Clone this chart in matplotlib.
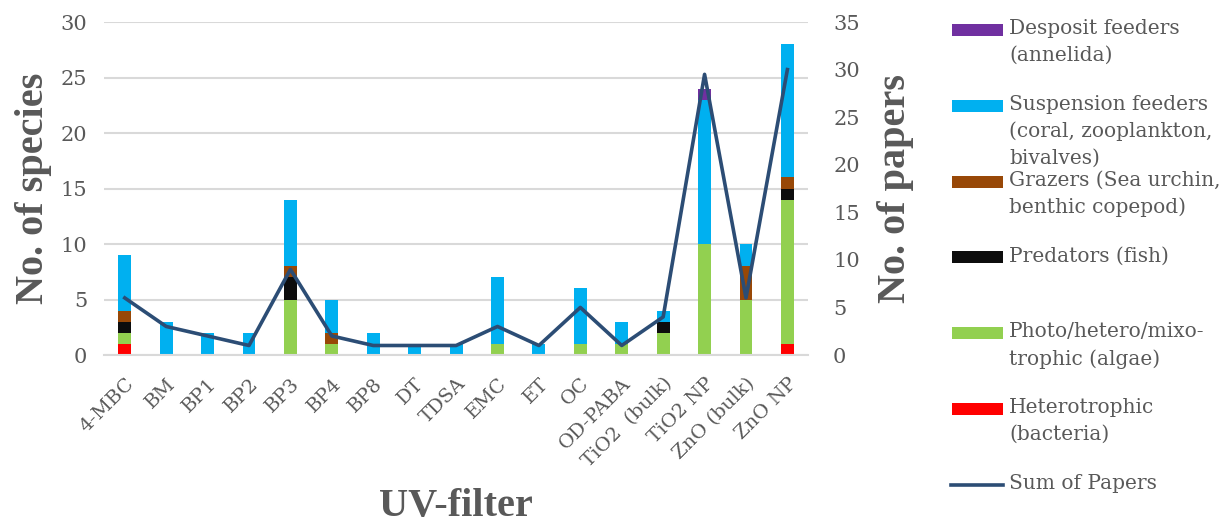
import numpy as np
import matplotlib
import matplotlib.pyplot as plt
from matplotlib.patches import Rectangle
from matplotlib.lines import Line2D

matplotlib.use('agg')

### data
filters = ['4-MBC', 'BM', 'BP1', 'BP2', 'BP3', 'BP4', 'BP8', 'DT', 'TDSA', 'EMC',
           'ET', 'OC', 'OD-PABA', 'TiO2  (bulk)', 'TiO2 NP', 'ZnO (bulk)', 'ZnO NP']
heterotrophic = [1, 0, 0, 0, 0, 0, 0, 0, 0, 0, 0, 0, 0, 0, 0, 0, 1]
photo = [1, 0, 0, 0, 5, 1, 0, 0, 0, 1, 0, 1, 1, 2, 10, 5, 13]
predators = [1, 0, 0, 0, 2, 0, 0, 0, 0, 0, 0, 0, 0, 1, 0, 0, 1]
grazers = [1, 0, 0, 0, 1, 1, 0, 0, 0, 0, 0, 0, 0, 0, 0, 3, 1]
suspension = [5, 3, 2, 2, 6, 3, 2, 1, 1, 6, 1, 5, 2, 1, 13, 2, 12]
deposit = [0, 0, 0, 0, 0, 0, 0, 0, 0, 0, 0, 0, 0, 0, 1, 0, 0]
papers = [6, 3, 2, 1, 9, 2, 1, 1, 1, 3, 1, 5, 1, 4, 29.5, 6, 30]

# stacking order bottom -> top
stack = [heterotrophic, photo, predators, grazers, suspension, deposit]
stack_colors = ['#ff0000', '#92d050', '#0d0d0d', '#984807', '#00b0f0', '#7030a0']

legend_labels = ['Desposit feeders\n(annelida)',
                 'Suspension feeders\n(coral, zooplankton,\nbivalves)',
                 'Grazers (Sea urchin,\nbenthic copepod)',
                 'Predators (fish)',
                 'Photo/hetero/mixo-\ntrophic (algae)',
                 'Heterotrophic\n(bacteria)',
                 'Sum of Papers']
legend_colors = ['#7030a0', '#00b0f0', '#984807', '#0d0d0d', '#92d050', '#ff0000', '#2c4d75']

txt_col = '#595959'
line_col = '#2c4d75'
plt.rcParams['font.family'] = ['DejaVu Serif']
title_font = {'family': ['Liberation Serif'], 'fontsize': 29, 'fontweight': 'bold', 'color': txt_col}

fig = plt.figure(figsize=(12.3, 5.24), dpi=100)
ax = fig.add_axes([0.0846, 0.3225, 0.5724, 0.6355])

x = np.arange(len(filters))
bottom = np.zeros(len(filters))
for vals, col in zip(stack, stack_colors):
    ax.bar(x, vals, width=0.31, bottom=bottom, color=col, zorder=2)
    bottom = bottom + np.array(vals)

ax.set_xlim(-0.5, len(filters) - 0.5)
ax.set_ylim(0, 30)
ax.set_yticks(np.arange(0, 31, 5))
ax.yaxis.grid(True, color='#d9d9d9', linewidth=1.5, zorder=0)
ax.set_axisbelow(True)
for s in ['top', 'right', 'left']:
    ax.spines[s].set_visible(False)
ax.spines['bottom'].set_color('#d9d9d9')
ax.spines['bottom'].set_linewidth(1.5)
ax.tick_params(length=0, labelsize=15, labelcolor=txt_col)
ax.set_xticks(x)
ax.set_xticklabels(filters, rotation=45, ha='right', rotation_mode='anchor')
ax.tick_params(axis='x', pad=14, labelsize=14)
ax.tick_params(axis='y', pad=12)
ax.set_ylabel('No. of species', labelpad=6, **title_font)
ax.set_xlabel('UV-filter', labelpad=12, **title_font)

ax2 = ax.twinx()
ax2.plot(x, papers, color=line_col, linewidth=2.6, zorder=3)
ax2.set_ylim(0, 35)
ax2.set_yticks(np.arange(0, 36, 5))
for s in ['top', 'right', 'left', 'bottom']:
    ax2.spines[s].set_visible(False)
ax2.tick_params(length=0, labelsize=15, labelcolor=txt_col, pad=18)
ax2.set_ylabel('No. of papers', labelpad=12, **title_font)

# legend drawn by hand (Excel style, fixed spacing)
W, H = 1230.0, 524.0
for i, (lab, col) in enumerate(zip(legend_labels, legend_colors)):
    yc = 30 + i * 75.8
    if i < 6:
        fig.add_artist(Rectangle((952 / W, 1 - (yc + 6) / H), 51 / W, 12 / H,
                                 transform=fig.transFigure, color=col, linewidth=0))
    else:
        fig.add_artist(Line2D([951 / W, 1003 / W], [1 - yc / H, 1 - yc / H],
                              transform=fig.transFigure, color=col, linewidth=2.6))
    fig.text(1009 / W, 1 - (yc - 11) / H, lab, fontsize=14.5, color=txt_col,
             va='top', ha='left', linespacing=1.5)

plt.savefig('out.png', dpi=100, facecolor='white')
plt.close()
